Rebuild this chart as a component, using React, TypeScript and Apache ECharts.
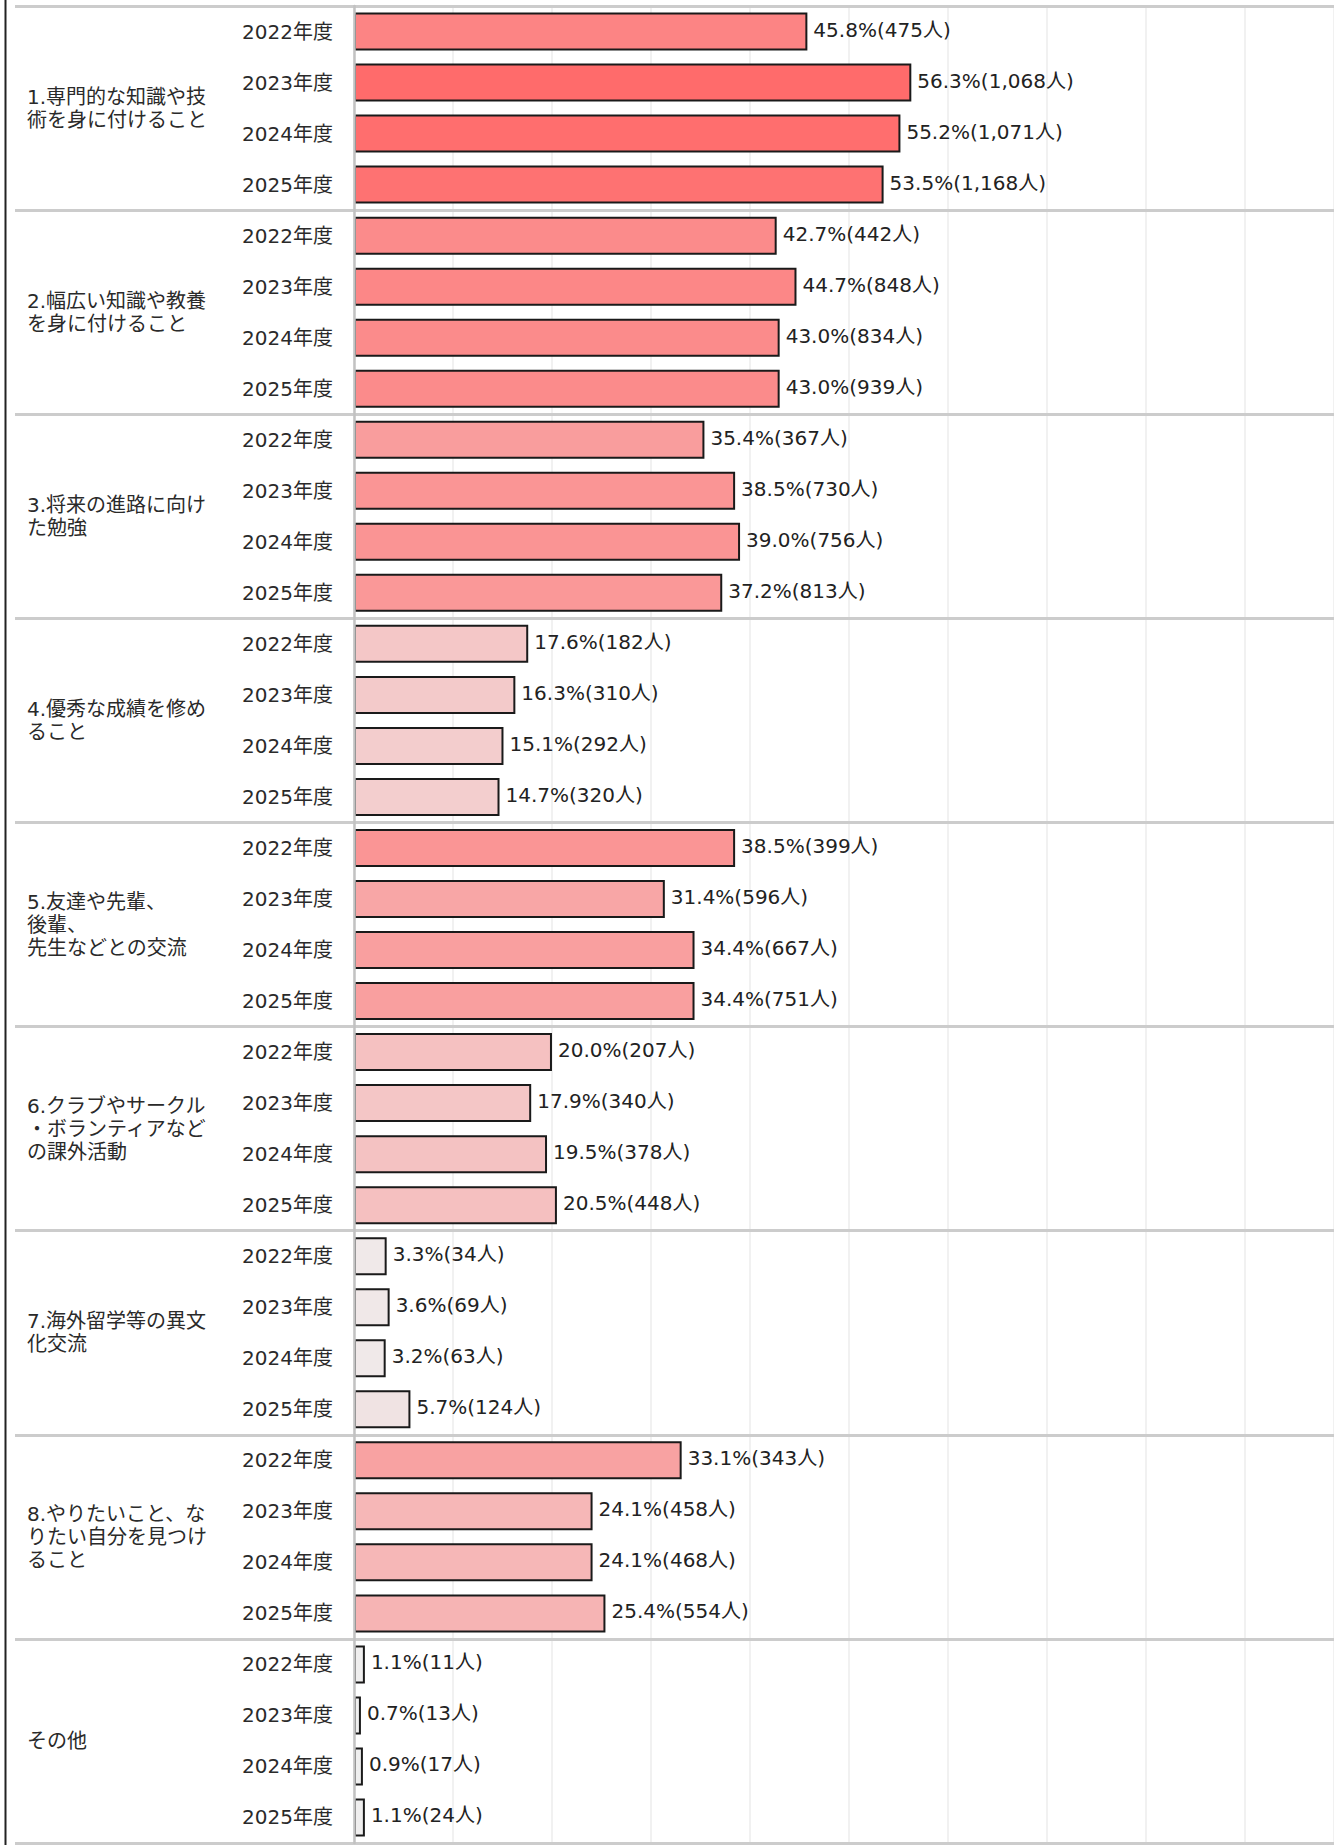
import React, { useEffect, useRef } from "react";
import * as echarts from "echarts";

const groups = [
  "1.専門的な知識や技\n術を身に付けること",
  "2.幅広い知識や教養\nを身に付けること",
  "3.将来の進路に向け\nた勉強",
  "4.優秀な成績を修め\nること",
  "5.友達や先輩、\n後輩、\n先生などとの交流",
  "6.クラブやサークル\n・ボランティアなど\nの課外活動",
  "7.海外留学等の異文\n化交流",
  "8.やりたいこと、な\nりたい自分を見つけ\nること",
  "その他",
];

const years = ["2022年度", "2023年度", "2024年度", "2025年度"];

// percentages per group, per year (2022..2025)
const pct1 = [45.8, 56.3, 55.2, 53.5];
const pct2 = [42.7, 44.7, 43.0, 43.0];
const pct3 = [35.4, 38.5, 39.0, 37.2];
const pct4 = [17.6, 16.3, 15.1, 14.7];
const pct5 = [38.5, 31.4, 34.4, 34.4];
const pct6 = [20.0, 17.9, 19.5, 20.5];
const pct7 = [3.3, 3.6, 3.2, 5.7];
const pct8 = [33.1, 24.1, 24.1, 25.4];
const pct9 = [1.1, 0.7, 0.9, 1.1];

// respondent counts per group, per year
const cnt1 = [475, 1068, 1071, 1168];
const cnt2 = [442, 848, 834, 939];
const cnt3 = [367, 730, 756, 813];
const cnt4 = [182, 310, 292, 320];
const cnt5 = [399, 596, 667, 751];
const cnt6 = [207, 340, 378, 448];
const cnt7 = [34, 69, 63, 124];
const cnt8 = [343, 458, 468, 554];
const cnt9 = [11, 13, 17, 24];

// visible part of the x axis (the full 0-100% axis runs past the right edge)
const xTicks = { min: 0, max: 99, interval: 10 };

const pctAll = [pct1, pct2, pct3, pct4, pct5, pct6, pct7, pct8, pct9];
const cntAll = [cnt1, cnt2, cnt3, cnt4, cnt5, cnt6, cnt7, cnt8, cnt9];

const FONT = '"DejaVu Sans", "Noto Sans CJK JP", sans-serif';
const FONT_JP = '"Noto Sans CJK JP", "Noto Sans", sans-serif';

export default function App() {
  const ref = useRef<HTMLDivElement>(null);

  useEffect(() => {
    if (!ref.current) return;
    const chart = echarts.init(ref.current, undefined, { renderer: "svg" });

    const rowCats: string[] = [];
    const values: [number, string][] = [];
    const counts: number[] = [];
    groups.forEach((_, gi) => {
      years.forEach((y, yi) => {
        const key = `${gi}|${y}`;
        rowCats.push(key);
        values.push([pctAll[gi][yi], key]);
        counts.push(cntAll[gi][yi]);
      });
    });

    const gridTop = 6;
    const gridBottomY = 1843;

    chart.setOption({
      animation: false,
      backgroundColor: "#ffffff",
      textStyle: { fontFamily: FONT },
      grid: {
        left: 354,
        right: 0,
        top: gridTop,
        height: gridBottomY - gridTop,
        containLabel: false,
      },
      xAxis: {
        type: "value",
        min: xTicks.min,
        max: xTicks.max,
        interval: xTicks.interval,
        axisLabel: { show: false },
        axisLine: { show: false },
        axisTick: { show: false },
        splitLine: { show: true, lineStyle: { color: "#ececec", width: 1.5 } },
      },
      yAxis: [
        {
          type: "category",
          data: rowCats,
          inverse: true,
          position: "left",
          z: 5,
          axisLine: { show: true, lineStyle: { color: "#c2c2c2", width: 2.5 } },
          axisTick: { show: false },
          splitLine: { show: false },
          axisLabel: {
            interval: 0,
            margin: 21,
            fontSize: 20,
            color: "#2a2a2a",
            fontFamily: FONT,
            formatter: (v: string) => v.split("|")[1],
          },
        },
        {
          type: "category",
          data: groups,
          inverse: true,
          position: "left",
          z: 4,
          axisLine: { show: false },
          axisTick: {
            show: true,
            interval: 0,
            length: 339,
            lineStyle: { color: "#cccccc", width: 3 },
          },
          splitLine: {
            show: true,
            interval: 0,
            lineStyle: { color: "#cccccc", width: 3 },
          },
          axisLabel: {
            interval: 0,
            margin: 327,
            align: "left",
            fontSize: 20,
            lineHeight: 23,
            color: "#2a2a2a",
            fontFamily: FONT,
          },
        },
      ],
      visualMap: {
        type: "continuous",
        show: false,
        seriesIndex: 0,
        dimension: 0,
        min: 0.7,
        max: 56.3,
        inRange: { color: ["#efefef", "#ff6b6b"] },
      },
      series: [
        {
          type: "bar",
          yAxisIndex: 0,
          data: values,
          encode: { x: 0, y: 1 },
          barWidth: 38,
          itemStyle: { borderColor: "#1a1a1a", borderWidth: 2 },
          label: {
            show: true,
            position: "right",
            distance: 6,
            fontSize: 20,
            color: "#222",
            fontFamily: FONT,
            offset: [0, -2],
            formatter: (p: any) =>
              `${values[p.dataIndex][0].toFixed(1)}%(${counts[p.dataIndex].toLocaleString("en-US")}人)`,
          },
        },
      ],
      graphic: [
        {
          type: "line",
          shape: { x1: 5.5, y1: 0, x2: 5.5, y2: 1845 },
          style: { stroke: "#222", lineWidth: 2 },
          z: 10,
        },
      ],
    });

    return () => chart.dispose();
  }, []);

  return (
    <div
      ref={ref}
      style={{ position: "absolute", left: 0, top: 0, width: 1334, height: 1845 }}
    />
  );
}
